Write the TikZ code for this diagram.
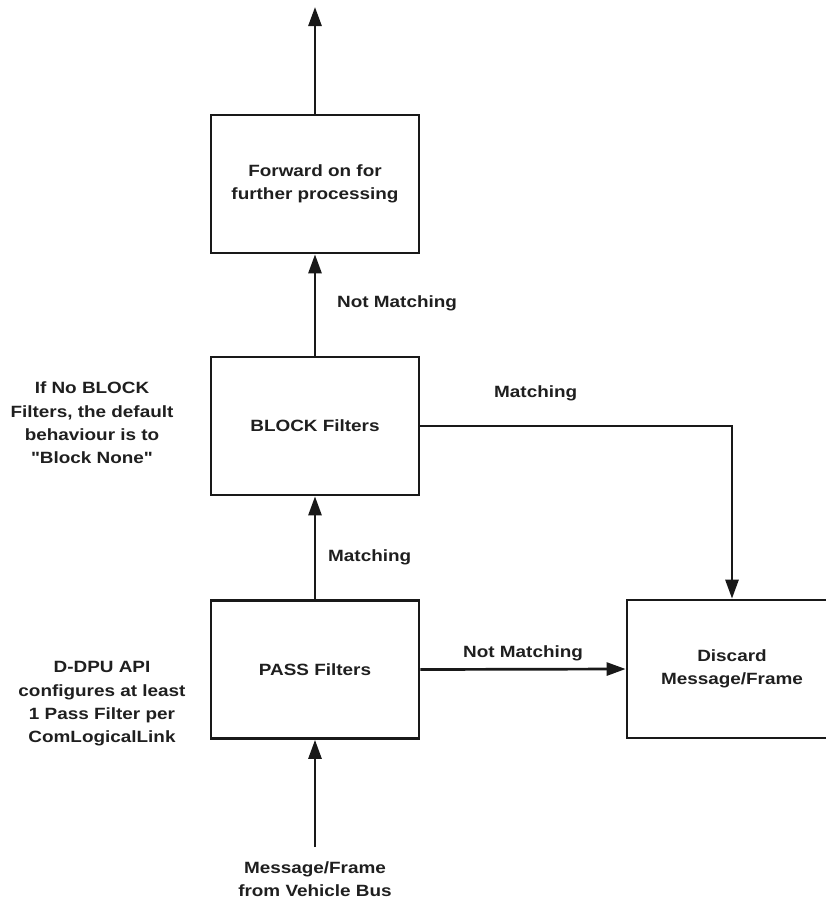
\documentclass[tikz,border=0pt]{standalone}
\usepackage{fontspec}
\newfontfamily\diagfont{Liberation Sans}[FakeStretch=1.16]
\usetikzlibrary{arrows.meta}
\begin{document}
\begin{tikzpicture}[x=1pt,y=-1pt,
  txt/.style={font=\diagfont\bfseries\fontsize{16.3}{23.4}\selectfont, text=black!88, align=center, inner sep=0pt},
  stage/.style={txt, draw=black!90, line width=2.7pt, minimum width=208pt, minimum height=138pt},
  flow/.style={draw=black!90, line width=2.7pt, -{Triangle[length=19pt,width=13pt]}},
  lbl/.style={txt, anchor=west}]
  \useasboundingbox[fill=white] (0,0) rectangle (826,900);

  % filter stages
  \node[stage] (fwd) at (315,184) {Forward on for\\further processing};
  \node[stage] (block) at (315,426) {BLOCK Filters};
  \node[stage] (pass) at (315,669.5) {PASS Filters};
  \node[stage, minimum width=210pt] (discard) at (732,669) {Discard\\Message/Frame};

  % side notes
  \node[txt] (blocknote) at (92,423) {If No BLOCK\\Filters, the default\\behaviour is to\\"Block None"};
  \node[txt] (passnote) at (102,704) {D-DPU API\\configures at least\\1 Pass Filter per\\ComLogicalLink};

  % input and output ends
  \coordinate (out) at (315,7);
  \coordinate (in) at (315,847);
  \node[txt] (source) at (315,879) {Message/Frame\\from Vehicle Bus};

  % connectors
  \draw[flow] (fwd.north) -- (out);
  \draw[flow] (block.north) -- (fwd.south);
  \draw[flow] (pass.north) -- (block.south);
  \draw[flow] (in) -- (pass.south);
  \draw[flow] (pass.east) -- (discard.west);
  \draw[flow] (block.east) -| (discard.north);

  % connector labels
  \node[lbl] (lnm1) at (337,303) {Not Matching};
  \node[lbl] (lm1) at (494,393) {Matching};
  \node[lbl] (lm2) at (328,557) {Matching};
  \node[lbl] (lnm2) at (463,653) {Not Matching};
\end{tikzpicture}
\end{document}
